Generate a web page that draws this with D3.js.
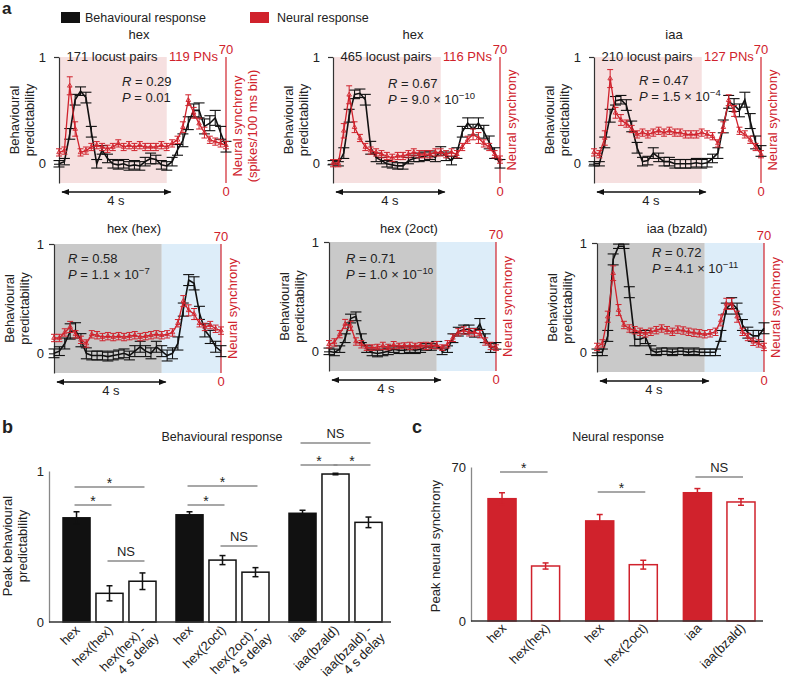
<!DOCTYPE html>
<html>
<head>
<meta charset="utf-8">
<script src="https://cdn.jsdelivr.net/npm/d3@7/dist/d3.min.js"></script>
<style>
  body { margin: 0; background: #fff; }
  text { font-family: "Liberation Sans", Arial, sans-serif; fill: #222; }
</style>
</head>
<body>
<script>
// ---- data: panel a (time in s, behavioural predictability, neural synchrony) ----
var times = [0,0.2,0.4,0.6,0.8,1.0,1.2,1.4,1.6,1.8,2.0,2.2,2.4,2.6,2.8,3.0,3.2,3.4,3.6,3.8,4.0,4.2,4.4,4.6,4.8,5.0,5.2,5.4,5.6,5.8,6.0,6.2];

var panelTitles = ['hex', 'hex', 'iaa', 'hex (hex)', 'hex (2oct)', 'iaa (bzald)'];
var pairCounts = ['171 locust pairs', '465 locust pairs', '210 locust pairs'];
var pnCounts = ['119 PNs', '116 PNs', '127 PNs'];
var statsR = ['0.29', '0.67', '0.47', '0.58', '0.71', '0.72'];
var statsP = ['0.01', '9.0 \u00d7 10^\u221210', '1.5 \u00d7 10^\u22124', '1.1 \u00d7 10^\u22127', '1.0 \u00d7 10^\u221210', '4.1 \u00d7 10^\u221211'];

var beh1 = [0.00,0.02,0.28,0.60,0.68,0.62,0.30,0.00,0.13,0.05, 0.00,-0.01,0.00,-0.02,-0.01,-0.02,0.02,0.05,0.04,-0.01, -0.02,0.02,0.13,0.22,0.38,0.50,0.50,0.35,0.38,0.43, 0.29,0.16];
var beh1Err = [0.03,0.03,0.05,0.05,0.04,0.05,0.05,0.04,0.04,0.04, 0.04,0.04,0.04,0.04,0.04,0.04,0.04,0.05,0.04,0.04, 0.04,0.04,0.05,0.06,0.06,0.06,0.07,0.07,0.07,0.07, 0.06,0.05];
var neu1 = [17,18,54,30,17,18,20,21,20,19, 20,22,20,21,20,21,20,20,20,21, 20,22,24,31,46,39,33,28,24,23, 22,21];
var neu1Err = [2,2,5,4,2,2,2,2,2,2, 2,2,2,2,2,2,2,2,2,2, 2,2,2,3,3,3,3,3,2,2, 2,2];

var beh2 = [0.01,0.00,0.10,0.45,0.65,0.66,0.60,0.15,0.06,0.03, 0.00,-0.01,-0.02,-0.02,0.03,0.05,0.06,0.07,0.08,0.06, 0.12,0.07,0.03,0.10,0.30,0.38,0.32,0.38,0.30,0.20, 0.10,0.00];
var beh2Err = [0.02,0.02,0.05,0.06,0.04,0.04,0.05,0.06,0.04,0.03, 0.03,0.03,0.03,0.03,0.03,0.03,0.04,0.04,0.04,0.04, 0.04,0.04,0.04,0.05,0.05,0.05,0.05,0.05,0.06,0.06, 0.05,0.04];
var neu2 = [11,11,29,49,31,25,20,18,17,16, 15,14,15,15,16,17,16,16,16,17, 17,16,17,16,20,24,27,25,22,20, 16,13];
var neu2Err = [2,2,4,5,3,2,2,2,2,2, 2,2,2,2,2,2,2,2,2,2, 2,2,2,2,2,2,3,3,2,2, 2,2];

var beh3 = [0.00,0.00,0.20,0.45,0.59,0.60,0.55,0.35,0.15,0.02, 0.03,0.10,0.06,0.02,0.02,0.00,0.00,0.00,0.00,0.01, 0.00,0.01,0.05,0.10,0.35,0.58,0.55,0.50,0.60,0.40, 0.20,0.12];
var beh3Err = [0.02,0.02,0.05,0.06,0.04,0.04,0.05,0.05,0.05,0.04, 0.04,0.05,0.04,0.04,0.04,0.04,0.04,0.04,0.04,0.04, 0.04,0.04,0.04,0.05,0.06,0.06,0.06,0.06,0.07,0.07, 0.06,0.05];
var neu3 = [17,16,25,58,39,35,33,30,27,28, 27,28,29,28,29,28,28,27,27,27, 28,27,26,22,31,46,40,29,27,24, 20,16];
var neu3Err = [2,2,4,5,3,3,2,2,2,2, 2,2,2,2,2,2,2,2,2,2, 2,2,2,2,3,3,3,2,2,2, 2,2];

var beh4 = [0.00,0.02,0.09,0.20,0.21,0.12,0.00,-0.02,-0.02,-0.02, -0.03,-0.02,-0.01,0.00,-0.02,0.02,0.06,0.02,0.00,0.06, 0.02,-0.02,0.00,0.09,0.40,0.67,0.64,0.37,0.21,0.15, 0.06,0.02];
var beh4Err = [0.04,0.04,0.05,0.07,0.07,0.06,0.05,0.04,0.04,0.04, 0.04,0.04,0.04,0.04,0.04,0.05,0.05,0.05,0.05,0.05, 0.05,0.05,0.05,0.06,0.06,0.05,0.06,0.06,0.06,0.06, 0.05,0.05];
var neu4 = [19,19,22,25,21,18,16,21,20.5,19.5, 20,19.5,20,19.5,20,20.5,19.5,20,20.5,21, 20.5,21,22,27,39,34,32,27,25,26, 24,23];
var neu4Err = [2,2,2,3,2,2,2,2,2,2, 2,2,2,2,2,2,2,2,2,2, 2,2,2,2,3,3,3,2,2,2, 2,2];

var beh5 = [0.00,-0.01,0.02,0.12,0.30,0.32,0.12,0.02,-0.01,-0.02, -0.01,0.00,0.02,0.01,0.01,0.02,0.01,0.02,0.04,0.04, 0.06,0.00,0.02,0.12,0.18,0.20,0.20,0.17,0.25,0.12, 0.03,0.05];
var beh5Err = [0.03,0.03,0.03,0.04,0.04,0.04,0.04,0.03,0.03,0.03, 0.03,0.03,0.03,0.03,0.03,0.03,0.03,0.03,0.03,0.03, 0.03,0.03,0.03,0.04,0.04,0.04,0.04,0.04,0.05,0.04, 0.04,0.03];
var neu5 = [14.5,15.5,20,25.5,24.5,16,14.5,12.7,12.7,13, 13.6,13,14,13.6,13.8,13.6,13.6,14,13.6,13.8, 14,12.7,14.5,18,21,22,21,21,20,16, 13.6,12.7];
var neu5Err = [2,2,2,2.5,2.5,2,2,1.5,1.5,1.5, 2,1.5,2,1.5,1.5,2,1.5,1.5,2,1.5, 2,1.5,2,2,2,2,2,2,2,2, 2,1.5];

var beh6 = [0.00,0.00,0.15,0.85,0.97,0.97,0.55,0.12,0.12,0.14, 0.02,0.00,0.01,0.01,0.00,0.01,0.01,0.00,0.01,0.00, 0.00,0.00,0.00,0.15,0.40,0.45,0.40,0.25,0.18,0.15, 0.15,0.22];
var beh6Err = [0.03,0.03,0.05,0.05,0.02,0.02,0.05,0.06,0.06,0.06, 0.04,0.03,0.03,0.03,0.03,0.03,0.03,0.03,0.03,0.03, 0.03,0.03,0.03,0.05,0.05,0.05,0.05,0.05,0.05,0.05, 0.05,0.05];
var neu6 = [13.6,15.5,30,53.6,33.6,25.5,23.6,22.7,21.8,21, 21.8,22.7,23.6,22.7,21.8,23,22.5,21.8,21.3,21, 20.5,21,21.8,28,37,37,30,21.8,19,16.4, 15.5,13.6];
var neu6Err = [2,2,3,4,3,2,2,2,2,2, 2,2,2,2,2,2,2,2,2,2, 2,2,2,3,3,3,3,2,2,2, 2,2];

// ---- data: panel b (peak behavioural predictability) ----
var bGroups = ['hex', 'hex2oct', 'iaa'];
var bLabels = ['hex', 'hex(hex)', 'hex(hex) -\n4 s delay', 'hex', 'hex(2oct)', 'hex(2oct) -\n4 s delay', 'iaa', 'iaa(bzald)', 'iaa(bzald) -\n4 s delay'];
var bValues = [0.69, 0.19, 0.27, 0.71, 0.41, 0.33, 0.72, 0.98, 0.66];
var bErrors = [0.04, 0.05, 0.055, 0.02, 0.03, 0.03, 0.02, 0.005, 0.035];
// [from bar, to bar, level, text]
var bSig = [[0,2,0.894,'*'],[0,1,0.775,'*'],[1,2,0.404,'NS'],[3,5,0.90,'*'],[3,4,0.775,'*'],[4,5,0.503,'NS'],[6,8,1.185,'NS'],[6,7,1.04,'*'],[7,8,1.04,'*']];

// ---- data: panel c (peak neural synchrony) ----
var cGroups = ['hex', 'hex2oct', 'iaa'];
var cLabels = ['hex', 'hex(hex)', 'hex', 'hex(2oct)', 'iaa', 'iaa(bzald)'];
var cValues = [55.6, 25.0, 45.5, 25.6, 58.3, 54.1];
var cErrors = [2.7, 1.4, 2.9, 2.0, 1.9, 1.5];
var cSig = [[0,1,67.7,'*'],[2,3,58.6,'*'],[4,5,65.5,'NS']];

var RED = '#d0222c';

var svg = d3.select('body').append('svg')
  .attr('width', 788)
  .attr('height', 692);

svg.append('defs').append('marker')
  .attr('id', 'arrow')
  .attr('viewBox', '0 0 10 10')
  .attr('refX', 9).attr('refY', 5)
  .attr('markerWidth', 6).attr('markerHeight', 6)
  .attr('orient', 'auto-start-reverse')
  .append('path').attr('d', 'M0,1 L10,5 L0,9 Z').attr('fill', '#111');

// panel letters
[['a', 2, 14, 17], ['b', 2, 433, 18], ['c', 412, 433, 18]].forEach(function(l) {
  svg.append('text').attr('x', l[1]).attr('y', l[2])
    .style('font-size', l[3] + 'px').style('font-weight', 'bold').text(l[0]);
});

// legend
svg.append('rect').attr('x', 61).attr('y', 12).attr('width', 19).attr('height', 11).attr('fill', '#111');
svg.append('text').attr('x', 85).attr('y', 22).style('font-size', '12.5px').text('Behavioural response');
svg.append('rect').attr('x', 250).attr('y', 12).attr('width', 19).attr('height', 11).attr('fill', RED);
svg.append('text').attr('x', 277).attr('y', 22).style('font-size', '12.5px').text('Neural response');

// ---- panel a ----
var seriesBeh = [beh1, beh2, beh3, beh4, beh5, beh6];
var seriesBehErr = [beh1Err, beh2Err, beh3Err, beh4Err, beh5Err, beh6Err];
var seriesNeu = [neu1, neu2, neu3, neu4, neu5, neu6];
var seriesNeuErr = [neu1Err, neu2Err, neu3Err, neu4Err, neu5Err, neu6Err];

var layout = [
  {left: 59,  top: 57,  bottom: 183, rx: 63, ry: 29, ty: -18},
  {left: 333, top: 57,  bottom: 183, rx: 55, ry: 31, ty: -18},
  {left: 594, top: 57,  bottom: 183, rx: 45, ry: 28, ty: -18},
  {left: 54,  top: 244, bottom: 373, rx: 14, ry: 19, ty: -11},
  {left: 329, top: 242, bottom: 371, rx: 17, ry: 21, ty: -9},
  {left: 597, top: 243, bottom: 372, rx: 55, ry: 14, ty: -10}
];
var plotW = 167;

function rotLabel(g, x, y, lines, color) {
  var t = g.append('text')
    .attr('transform', 'translate(' + x + ',' + y + ') rotate(-90)')
    .attr('text-anchor', 'middle')
    .style('font-size', '13px');
  if (color) t.style('fill', color);
  lines.forEach(function(s, i) {
    t.append('tspan').attr('x', 0).attr('dy', i === 0 ? 0 : '1.18em').text(s);
  });
}

function statText(g, x, y, name, val) {
  var t = g.append('text').attr('x', x).attr('y', y).style('font-size', '13px');
  t.append('tspan').style('font-style', 'italic').text(name);
  var parts = val.split('^');
  t.append('tspan').text(' = ' + parts[0]);
  if (parts[1]) {
    t.append('tspan').attr('dy', -5).style('font-size', '9.5px').text(parts[1]);
  }
}

layout.forEach(function(p, k) {
  var g = svg.append('g');
  var bottomRow = k >= 3;
  var x = d3.scaleLinear().domain([0, 6.2]).range([p.left, p.left + plotW]);
  var y = d3.scaleLinear().domain([-0.18, 1]).range([p.bottom, p.top]);
  var yn = d3.scaleLinear().domain([0, 70]).range([p.bottom, p.top]);

  // stimulus shading
  g.append('rect').attr('x', x(0)).attr('y', p.top)
    .attr('width', x(4) - x(0)).attr('height', p.bottom - p.top)
    .attr('fill', bottomRow ? '#c9c9c9' : '#f6e0e0');
  if (bottomRow) {
    g.append('rect').attr('x', x(4)).attr('y', p.top)
      .attr('width', x(6.2) - x(4)).attr('height', p.bottom - p.top)
      .attr('fill', '#ddedf9');
  }

  // left axis
  var ax = g.append('g').attr('transform', 'translate(' + p.left + ',0)')
    .call(d3.axisLeft(y).tickValues([0, 1]).tickSize(5).tickSizeOuter(0).tickPadding(bottomRow ? 5 : 8).tickFormat(d3.format('d')));
  ax.selectAll('text').style('font-size', '13px').style('font-family', '"Liberation Sans", Arial, sans-serif').attr('fill', '#222');
  ax.selectAll('path,line').attr('stroke', '#333').attr('stroke-width', 1.2);

  // right axis
  g.append('line').attr('x1', x(6.2)).attr('x2', x(6.2)).attr('y1', yn(70)).attr('y2', yn(0))
    .attr('stroke', RED).attr('stroke-width', 1.2);
  g.append('text').attr('x', x(6.2)).attr('y', yn(70) - 3).attr('text-anchor', 'middle')
    .style('font-size', '13px').style('fill', RED).text('70');
  g.append('text').attr('x', x(6.2)).attr('y', yn(0) + 13).attr('text-anchor', 'middle')
    .style('font-size', '13px').style('fill', RED).text('0');

  // axis titles
  rotLabel(g, p.left - 40, (p.top + p.bottom) / 2, ['Behavioural', 'predictability']);
  rotLabel(g, x(6.2) + 16, (p.top + p.bottom) / 2 + (k === 0 ? 6 : 0),
    k === 0 ? ['Neural synchrony', '(spikes/100 ms bin)'] : ['Neural synchrony'], RED);

  // title and counts
  g.append('text').attr('x', p.left + 80).attr('y', p.top + p.ty).attr('text-anchor', 'middle')
    .style('font-size', '13px').text(panelTitles[k]);
  if (!bottomRow) {
    g.append('text').attr('x', p.left + 53).attr('y', p.top + 4).attr('text-anchor', 'middle')
      .style('font-size', '13px').text(pairCounts[k]);
    g.append('text').attr('x', p.left + 110).attr('y', p.top + 4)
      .style('font-size', '13px').style('fill', RED).text(pnCounts[k]);
  }
  statText(g, p.left + p.rx, p.top + p.ry, 'R', statsR[k]);
  statText(g, p.left + p.rx, p.top + p.ry + 16, 'P', statsP[k]);

  // 4 s arrow
  g.append('line').attr('x1', x(0) + 3).attr('x2', x(4) + 4)
    .attr('y1', p.bottom + 9).attr('y2', p.bottom + 9)
    .attr('stroke', '#111').attr('stroke-width', 1.3)
    .attr('marker-start', 'url(#arrow)').attr('marker-end', 'url(#arrow)');
  g.append('text').attr('x', (x(0) + x(4)) / 2 + 3).attr('y', p.bottom + 22).attr('text-anchor', 'middle')
    .style('font-size', '13px').text('4 s');

  // behavioural series
  var beh = seriesBeh[k], behErr = seriesBehErr[k];
  var eb = g.append('g').attr('stroke', '#111').attr('stroke-width', 1.1);
  times.forEach(function(t, i) {
    var cx = x(t), y1 = y(beh[i] - behErr[i]), y2 = y(beh[i] + behErr[i]);
    eb.append('line').attr('x1', cx).attr('x2', cx).attr('y1', y1).attr('y2', y2);
    eb.append('line').attr('x1', cx - 5.5).attr('x2', cx + 5.5).attr('y1', y1).attr('y2', y1);
    eb.append('line').attr('x1', cx - 5.5).attr('x2', cx + 5.5).attr('y1', y2).attr('y2', y2);
  });
  g.append('path').datum(beh)
    .attr('fill', 'none').attr('stroke', '#111').attr('stroke-width', 1.6)
    .attr('d', d3.line().x(function(d, i) { return x(times[i]); }).y(function(d) { return y(d); }));

  // neural series
  var neu = seriesNeu[k], neuErr = seriesNeuErr[k];
  var er = g.append('g').attr('stroke', RED).attr('stroke-width', 1);
  times.forEach(function(t, i) {
    var cx = x(t), y1 = yn(neu[i] - neuErr[i]), y2 = yn(neu[i] + neuErr[i]);
    er.append('line').attr('x1', cx).attr('x2', cx).attr('y1', y1).attr('y2', y2);
    er.append('line').attr('x1', cx - 3).attr('x2', cx + 3).attr('y1', y1).attr('y2', y1);
    er.append('line').attr('x1', cx - 3).attr('x2', cx + 3).attr('y1', y2).attr('y2', y2);
  });
  g.append('path').datum(neu)
    .attr('fill', 'none').attr('stroke', RED).attr('stroke-width', 1.3)
    .attr('d', d3.line().x(function(d, i) { return x(times[i]); }).y(function(d) { return yn(d); }));
  g.selectAll('.tri').data(neu).enter().append('path')
    .attr('transform', function(d, i) { return 'translate(' + x(times[i]) + ',' + yn(d) + ')'; })
    .attr('d', d3.symbol().type(d3.symbolTriangle).size(9))
    .attr('fill', 'none').attr('stroke', RED).attr('stroke-width', 0.9);
});

// ---- bar panels ----
function barPanel(opt) {
  var g = svg.append('g');
  var perGroup = opt.values.length / opt.groups.length;
  var outer = d3.scaleBand().domain(opt.groups).range(opt.range).paddingInner(opt.outerPad);
  var inner = d3.scaleBand().domain(d3.range(perGroup)).range([0, outer.bandwidth()]).paddingInner(opt.innerPad);
  var y = d3.scaleLinear().domain(opt.domain).range([opt.axisY, opt.topY]);
  function bx(i) { return outer(opt.groups[Math.floor(i / perGroup)]) + inner(i % perGroup); }
  function bc(i) { return bx(i) + inner.bandwidth() / 2; }

  g.selectAll('rect.bar').data(opt.values).enter().append('rect')
    .attr('x', function(d, i) { return bx(i); })
    .attr('y', function(d) { return y(d); })
    .attr('width', inner.bandwidth())
    .attr('height', function(d) { return y(0) - y(d); })
    .attr('fill', function(d, i) { return i % perGroup === 0 ? opt.color : '#fff'; })
    .attr('stroke', opt.color).attr('stroke-width', 1.5);

  var eg = g.append('g').attr('stroke', opt.color).attr('stroke-width', 1.5);
  opt.values.forEach(function(v, i) {
    var cx = bc(i), y1 = y(v - opt.errors[i]), y2 = y(v + opt.errors[i]);
    eg.append('line').attr('x1', cx).attr('x2', cx).attr('y1', y1).attr('y2', y2);
    eg.append('line').attr('x1', cx - 3).attr('x2', cx + 3).attr('y1', y1).attr('y2', y1);
    eg.append('line').attr('x1', cx - 3).attr('x2', cx + 3).attr('y1', y2).attr('y2', y2);
  });

  // axes
  var ay = g.append('g').attr('transform', 'translate(' + opt.axisX + ',0)')
    .call(d3.axisLeft(y).tickValues(opt.domain).tickSize(0).tickPadding(5).tickFormat(d3.format('d')));
  ay.selectAll('text').style('font-size', '13px').style('font-family', '"Liberation Sans", Arial, sans-serif').attr('fill', '#222');
  ay.select('.domain').attr('stroke', '#888').attr('stroke-width', 1.3);
  g.append('line').attr('x1', opt.axisX).attr('x2', opt.axisEnd).attr('y1', opt.axisY).attr('y2', opt.axisY)
    .attr('stroke', '#333').attr('stroke-width', 1.5);

  // category labels
  opt.labels.forEach(function(lbl, i) {
    var t = g.append('text')
      .attr('transform', 'translate(' + (bc(i) + opt.lblDx) + ',' + (opt.axisY + opt.lblDy) + ') rotate(-45)')
      .attr('text-anchor', 'end').style('font-size', '13px');
    lbl.split('\n').forEach(function(s, j) {
      t.append('tspan').attr('x', j ? 4 : 0).attr('dy', j ? '1.12em' : 0).text(s);
    });
  });

  // significance
  opt.sig.forEach(function(s) {
    var x1 = bc(s[0]) - 2, x2 = bc(s[1]) + 2, ly = y(s[2]);
    g.append('line').attr('x1', x1).attr('x2', x2).attr('y1', ly).attr('y2', ly)
      .attr('stroke', '#8a8a8a').attr('stroke-width', 1.5);
    g.append('text').attr('x', (x1 + x2) / 2).attr('y', s[3] === '*' ? ly + 1 : ly - 5)
      .attr('text-anchor', 'middle').style('font-size', s[3] === '*' ? '14px' : '13px').text(s[3]);
  });

  g.append('text').attr('x', opt.titleX).attr('y', 441).attr('text-anchor', 'middle')
    .style('font-size', '12.5px').text(opt.title);
  rotLabel(g, opt.yLblX, 546, opt.yLabel);
}

barPanel({
  groups: bGroups, labels: bLabels, values: bValues, errors: bErrors, sig: bSig,
  domain: [0, 1], axisY: 622, topY: 471, axisX: 49, axisEnd: 391,
  range: [63, 382], outerPad: 0.177, innerPad: 0.18,
  color: '#111', lblDx: 4, lblDy: 9,
  title: 'Behavioural response', titleX: 222,
  yLabel: ['Peak behavioural', 'predictability'], yLblX: 12
});

barPanel({
  groups: cGroups, labels: cLabels, values: cValues, errors: cErrors, sig: cSig,
  domain: [0, 70], axisY: 621, topY: 467, axisX: 471, axisEnd: 763,
  range: [488, 755], outerPad: 0.267, innerPad: 0.356,
  color: RED, lblDx: 5, lblDy: 8,
  title: 'Neural response', titleX: 618,
  yLabel: ['Peak neural synchrony'], yLblX: 440
});
</script>
</body>
</html>
